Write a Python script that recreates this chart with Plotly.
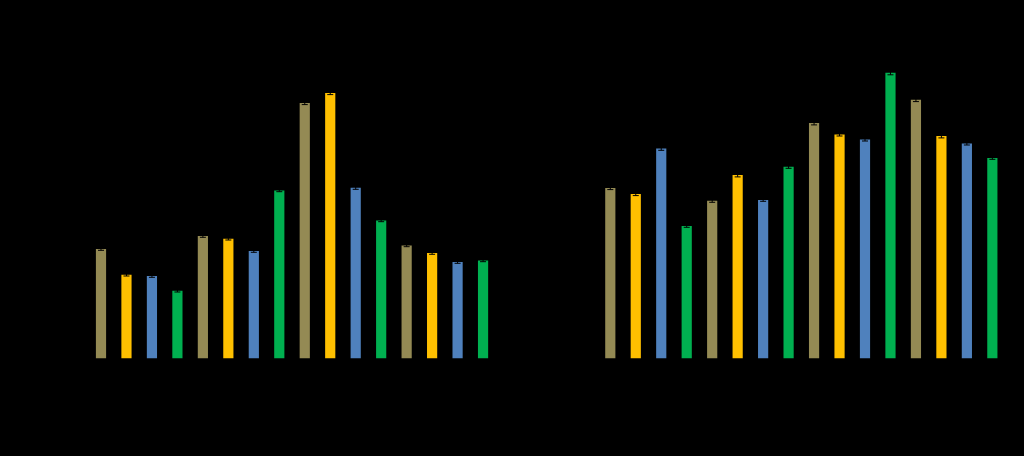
import plotly.graph_objects as go

categories = [f"S{i}" for i in range(1, 17)]
left_values = [109.4, 83.7, 82.4, 67.7, 122.4, 119.7, 107.4, 168.0,
               255.4, 265.4, 170.7, 138.0, 113.0, 105.4, 96.4, 98.0]
left_errors = [1.2, 1.2, 1.2, 1.2, 1.2, 1.2, 1.2, 1.2,
               1.5, 1.5, 1.5, 1.2, 1.2, 1.2, 1.2, 1.2]
right_values = [170.4, 164.4, 210.0, 132.4, 157.7, 183.4, 158.4, 191.7,
                235.4, 224.0, 219.0, 285.7, 258.7, 222.4, 215.0, 200.4]
right_errors = [1.5, 1.5, 1.8, 1.2, 1.5, 1.8, 1.2, 1.5,
                1.8, 1.5, 1.5, 2.0, 1.8, 1.8, 1.5, 1.2]
colors = ["#948A54", "#FFC000", "#4F81BD", "#00B050"] * 4

W, H = 1024, 456
base_px = 358.5
top_px = 20
y0 = (H - base_px) / H
y1 = 1 - top_px / H
yrange = [0, base_px - top_px]

fig = go.Figure()
fig.add_trace(go.Bar(x=categories, y=left_values, marker_color=colors, width=0.4,
                     marker_line_width=0,
                     error_y=dict(type="data", array=left_errors, color="black",
                                  thickness=1, width=3),
                     xaxis="x", yaxis="y", showlegend=False))
fig.add_trace(go.Bar(x=categories, y=right_values, marker_color=colors, width=0.4,
                     marker_line_width=0,
                     error_y=dict(type="data", array=right_errors, color="black",
                                  thickness=1, width=3),
                     xaxis="x2", yaxis="y2", showlegend=False))

pitch = 25.47
lx0 = 101 - pitch * 0.5
rx0 = 610.3 - pitch * 0.5
fig.update_layout(
    width=W, height=H,
    margin=dict(l=0, r=0, t=0, b=0),
    paper_bgcolor="black", plot_bgcolor="black",
    font=dict(family="Liberation Sans", color="black", size=12),
    xaxis=dict(domain=[lx0 / W, (lx0 + 16 * pitch) / W], range=[-0.5, 15.5],
               showgrid=False, showticklabels=False, zeroline=False, anchor="y"),
    yaxis=dict(domain=[y0, y1], range=yrange, showgrid=False, showticklabels=False,
               zeroline=False, anchor="x"),
    xaxis2=dict(domain=[rx0 / W, (rx0 + 16 * pitch) / W], range=[-0.5, 15.5],
                showgrid=False, showticklabels=False, zeroline=False, anchor="y2"),
    yaxis2=dict(domain=[y0, y1], range=yrange, showgrid=False, showticklabels=False,
                zeroline=False, anchor="x2"),
    bargap=0.6,
)

fig.write_html("out.html",
               config={"displayModeBar": False},
               post_script="document.body.style.margin='0';document.body.style.background='black';")
